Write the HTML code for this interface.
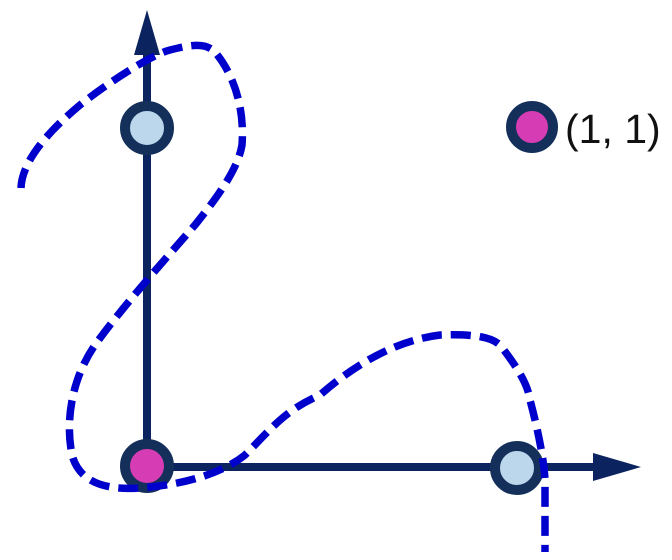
<!DOCTYPE html>
<html><head><style>body{margin:0;background:#fff;width:672px;height:555px;overflow:hidden}</style></head>
<body>
<svg width="672" height="555" viewBox="0 0 672 555" xmlns="http://www.w3.org/2000/svg">
<line x1="147" y1="50" x2="147" y2="467" stroke="#0b2460" stroke-width="8"/>
<polygon points="147,10 134,55 160,55" fill="#0b2460"/>
<line x1="147" y1="467" x2="600" y2="467" stroke="#0b2460" stroke-width="8"/>
<polygon points="641,467 593,453 593,481" fill="#0b2460"/>
<circle cx="147" cy="128" r="22" fill="#bcd6ec" stroke="#14305a" stroke-width="10"/>
<circle cx="147" cy="466" r="22" fill="#d63cb4" stroke="#14305a" stroke-width="10"/>
<circle cx="517" cy="468" r="22" fill="#bcd6ec" stroke="#14305a" stroke-width="10"/>
<circle cx="532" cy="127" r="21" fill="#d63cb4" stroke="#14305a" stroke-width="10"/>
<text x="565" y="143" font-family="Liberation Sans, DejaVu Sans, sans-serif" font-size="41" fill="#111">(1, 1)</text>
<path d="M21,188 C22,160 50,130 80,105 C105,85 150,55 170,50 C190,45 205,42 215,52 C232,72 245,105 242,145 C238,170 215,200 195,225 C160,265 120,310 95,345 C72,378 65,420 72,455 C80,485 110,490 140,488 C180,485 220,475 245,455 C270,430 285,410 320,395 C360,360 400,340 440,335 C470,334 490,336 500,345 C518,368 528,385 530,400 C538,430 544,460 545,480 L545,552" fill="none" stroke="#0000cc" stroke-width="7.5" stroke-dasharray="20,9"/>
</svg>
</body></html>
